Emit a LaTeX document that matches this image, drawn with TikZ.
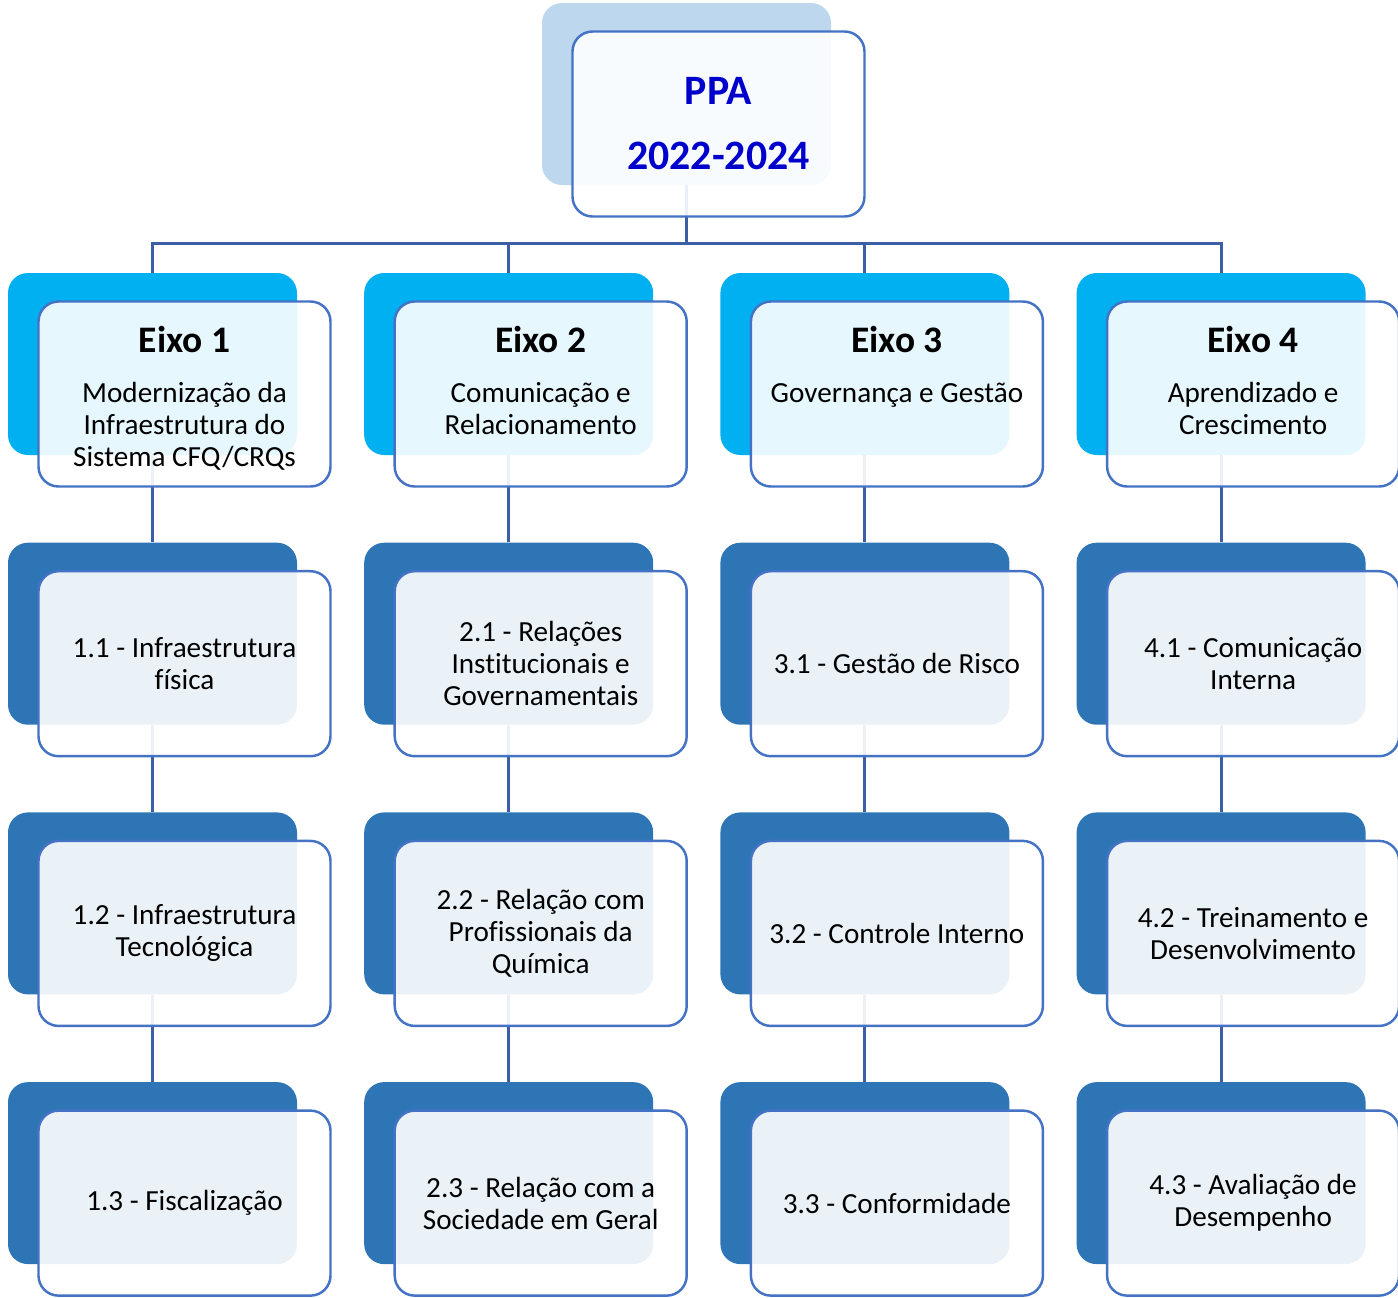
\documentclass[tikz,border=0pt]{standalone}
\usepackage{fontspec}
\setmainfont{Carlito}[Ligatures=NoCommon]
\usepackage{tikz}
\usetikzlibrary{positioning}
\definecolor{ppaback}{RGB}{189,215,238}
\definecolor{axiscyan}{RGB}{0,176,240}
\definecolor{itemblue}{RGB}{46,117,182}
\definecolor{frameblue}{RGB}{68,114,196}
\definecolor{linkblue}{RGB}{60,94,166}
\definecolor{ppatext}{RGB}{0,0,204}
\newcommand{\bodyfont}{\fontsize{16.6}{18.2}\selectfont}
\newcommand{\titlefont}{\fontsize{21.3}{24}\selectfont\bfseries}
\newcommand{\axislabel}[2]{\begin{minipage}[c][2.7cm][t]{5.8cm}\centering
  {\titlefont #1\par}\vspace{10.2pt}#2\par\end{minipage}}
\pgfdeclarelayer{background}
\pgfsetlayers{background,main}
\tikzstyle{backbox}  = [rectangle, rounded corners=0.4cm, minimum width=5.78cm, minimum height=3.64cm, inner sep=0pt]
\tikzstyle{ppabox}   = [backbox, fill=ppaback]
\tikzstyle{axisback} = [backbox, fill=axiscyan]
\tikzstyle{itemback} = [backbox, fill=itemblue]
\tikzstyle{frontbox} = [rectangle, rounded corners=0.4cm, minimum width=5.84cm, minimum height=3.70cm, inner sep=0pt, draw=frameblue, line width=1.4pt, fill=white, fill opacity=0.9, text opacity=1, align=center, font=\bodyfont, xshift=0.64cm, yshift=-0.6cm]
\tikzstyle{link}     = [draw=linkblue, line width=1.7pt]

\begin{document}
\begin{tikzpicture}
    \useasboundingbox (0,0) rectangle (27.96,-25.94);

    % top box
    \node[ppabox] (ppabg) at (13.73,-1.88) {};
    \node[frontbox, font=\fontsize{23.8}{37}\selectfont\bfseries, text=ppatext] (ppa) at (ppabg) {PPA\\2022-2024};

    % axes
    \node[axisback] (ax1bg) at (3.05,-7.28) {};
    \node[axisback, right=1.33cm of ax1bg] (ax2bg) {};
    \node[axisback, right=1.33cm of ax2bg] (ax3bg) {};
    \node[axisback, right=1.33cm of ax3bg] (ax4bg) {};
    \node[frontbox] (ax1) at (ax1bg) {\axislabel{Eixo 1}{Modernização da\\Infraestrutura do\\Sistema CFQ/CRQs}};
    \node[frontbox] (ax2) at (ax2bg) {\axislabel{Eixo 2}{Comunicação e\\Relacionamento}};
    \node[frontbox] (ax3) at (ax3bg) {\axislabel{Eixo 3}{Governança e Gestão}};
    \node[frontbox] (ax4) at (ax4bg) {\axislabel{Eixo 4}{Aprendizado e\\Crescimento}};

    % first row of items
    \node[itemback, below=1.74cm of ax1bg] (it11bg) {};
    \node[itemback, below=1.74cm of ax2bg] (it21bg) {};
    \node[itemback, below=1.74cm of ax3bg] (it31bg) {};
    \node[itemback, below=1.74cm of ax4bg] (it41bg) {};
    \node[frontbox] (it11) at (it11bg) {1.1 - Infraestrutura\\física};
    \node[frontbox] (it21) at (it21bg) {2.1 - Relações\\Institucionais e\\Governamentais};
    \node[frontbox] (it31) at (it31bg) {3.1 - Gestão de Risco};
    \node[frontbox] (it41) at (it41bg) {4.1 - Comunicação\\Interna};

    % second row
    \node[itemback, below=1.74cm of it11bg] (it12bg) {};
    \node[itemback, below=1.74cm of it21bg] (it22bg) {};
    \node[itemback, below=1.74cm of it31bg] (it32bg) {};
    \node[itemback, below=1.74cm of it41bg] (it42bg) {};
    \node[frontbox] (it12) at (it12bg) {1.2 - Infraestrutura\\Tecnológica};
    \node[frontbox] (it22) at (it22bg) {2.2 - Relação com\\Profissionais da\\Química};
    \node[frontbox] (it32) at (it32bg) {3.2 - Controle Interno};
    \node[frontbox] (it42) at (it42bg) {4.2 - Treinamento e\\Desenvolvimento};

    % third row
    \node[itemback, below=1.74cm of it12bg] (it13bg) {};
    \node[itemback, below=1.74cm of it22bg] (it23bg) {};
    \node[itemback, below=1.74cm of it32bg] (it33bg) {};
    \node[itemback, below=1.74cm of it42bg] (it43bg) {};
    \node[frontbox] (it13) at (it13bg) {1.3 - Fiscalização};
    \node[frontbox] (it23) at (it23bg) {2.3 - Relação com a\\Sociedade em Geral};
    \node[frontbox] (it33) at (it33bg) {3.3 - Conformidade};
    \node[frontbox] (it43) at (it43bg) {4.3 - Avaliação de\\Desempenho};

    % connectors, behind the boxes
    \begin{pgfonlayer}{background}
        \coordinate (bus) at (0,-4.86);
        \foreach \c in {1,...,4} {
            \draw[link] (ppabg.south) -- (ppabg.south |- bus) -| (ax\c bg.north);
            \draw[link] (ax\c bg.south) -- (it\c 1bg.north);
            \draw[link] (it\c 1bg.south) -- (it\c 2bg.north);
            \draw[link] (it\c 2bg.south) -- (it\c 3bg.north);
        }
    \end{pgfonlayer}
\end{tikzpicture}
\end{document}
